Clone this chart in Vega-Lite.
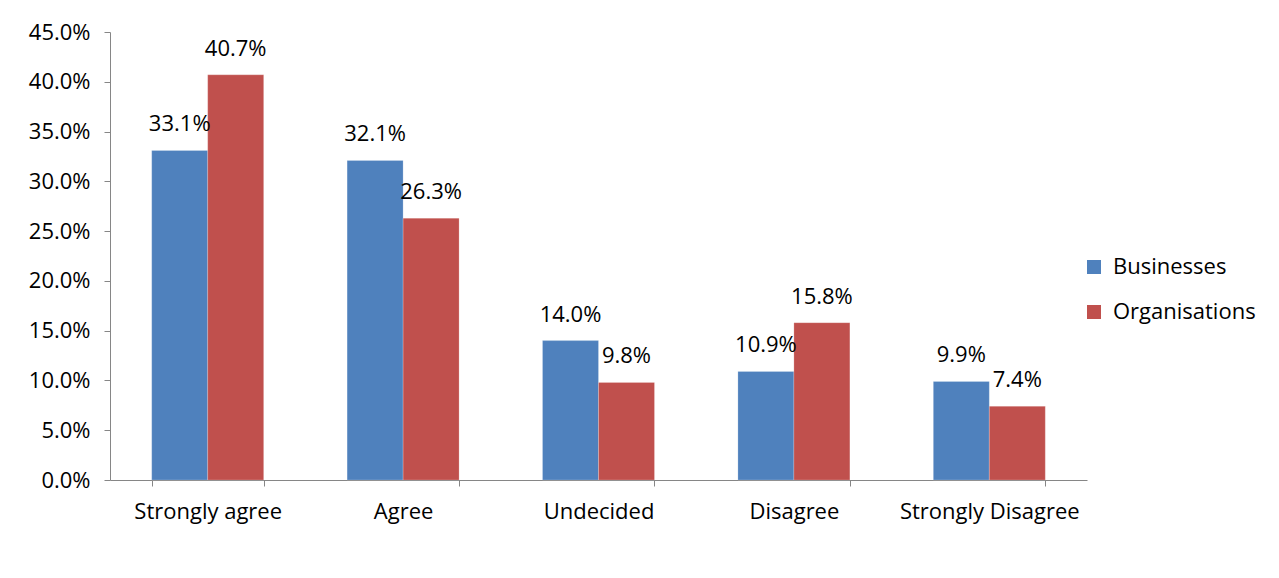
{
  "$schema": "https://vega.github.io/schema/vega-lite/v6.json",
  "width": 977,
  "height": 448,
  "autosize": {"type": "none"},
  "padding": {"left": 110, "top": 32, "right": 192, "bottom": 98},
  "background": "white",
  "config": {
    "view": {"stroke": null},
    "font": "Open Sans",
    "axis": {"labelFont": "Open Sans", "labelFontSize": 22, "labelColor": "#000000", "domainColor": "#868686", "tickColor": "#868686", "grid": false, "title": null},
    "legend": {"labelFont": "Open Sans", "labelFontSize": 22, "labelColor": "#000000"}
  },
  "data": {
    "values": [
      {"category": "Strongly agree", "series": "Businesses", "value": 0.331},
      {"category": "Strongly agree", "series": "Organisations", "value": 0.407},
      {"category": "Agree", "series": "Businesses", "value": 0.321},
      {"category": "Agree", "series": "Organisations", "value": 0.263},
      {"category": "Undecided", "series": "Businesses", "value": 0.140},
      {"category": "Undecided", "series": "Organisations", "value": 0.098},
      {"category": "Disagree", "series": "Businesses", "value": 0.109},
      {"category": "Disagree", "series": "Organisations", "value": 0.158},
      {"category": "Strongly Disagree", "series": "Businesses", "value": 0.099},
      {"category": "Strongly Disagree", "series": "Organisations", "value": 0.074}
    ]
  },
  "encoding": {
    "x": {
      "field": "category", "type": "nominal", "sort": null,
      "scale": {"paddingInner": 0.427, "paddingOuter": 0.2135},
      "axis": {"labelAngle": 0, "tickBand": "extent", "tickSize": 6, "labelPadding": 15}
    },
    "xOffset": {"field": "series", "type": "nominal", "scale": {"paddingInner": 0, "paddingOuter": 0}},
    "y": {
      "field": "value", "type": "quantitative",
      "scale": {"domain": [0, 0.45], "nice": false},
      "axis": {"format": ".1%", "values": [0, 0.05, 0.1, 0.15, 0.2, 0.25, 0.3, 0.35, 0.4, 0.45], "tickSize": 6, "labelPadding": 14}
    }
  },
  "layer": [
    {
      "mark": {"type": "bar", "stroke": "#ffffff", "strokeWidth": 0.5, "strokeOpacity": 0.4},
      "encoding": {
        "color": {
          "field": "series", "type": "nominal",
          "scale": {"domain": ["Businesses", "Organisations"], "range": ["#4F81BD", "#C0504D"]},
          "legend": {"title": null, "orient": "none", "legendX": 973, "legendY": 224, "symbolType": "square", "symbolSize": 196, "symbolStrokeWidth": 0, "rowPadding": 23, "labelOffset": 8, "padding": 0}
        }
      }
    },
    {
      "mark": {"type": "text", "fontSize": 22, "baseline": "middle", "dy": -26, "color": "#000000"},
      "encoding": {
        "text": {"field": "value", "type": "quantitative", "format": ".1%"}
      }
    }
  ]
}
